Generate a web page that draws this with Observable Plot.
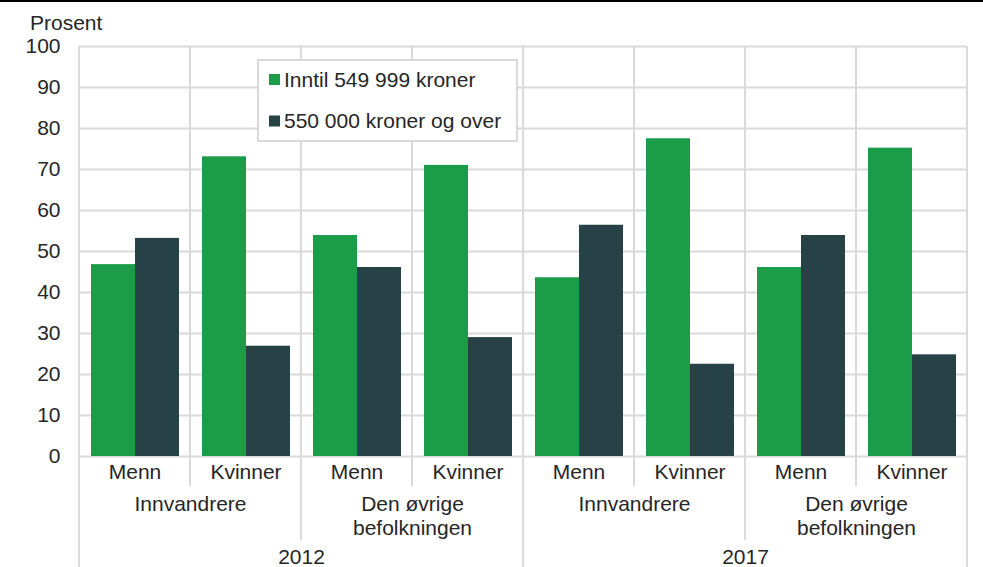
<!DOCTYPE html>
<html><head><meta charset="utf-8">
<script src="https://cdn.jsdelivr.net/npm/d3@7"></script>
<script src="https://cdn.jsdelivr.net/npm/@observablehq/plot@0.6"></script>
<style>
body{margin:0;background:#fff;}
#chart{position:relative;width:983px;height:567px;}
</style>
</head><body><div id="chart"></div>
<script>
// ---- data ----
const years = ["2012", "2017"];
const groups = ["Innvandrere", "Den øvrige\nbefolkningen"];
const genders = ["Menn", "Kvinner"];
const seriesNames = ["Inntil 549 999 kroner", "550 000 kroner og over"];
// order: 2012 Innv Menn, Kvinner, Øvrige Menn, Kvinner, 2017 ...
const lowIncome  = [46.8, 73.1, 53.9, 71.0, 43.6, 77.5, 46.1, 75.2];
const highIncome = [53.2, 26.9, 46.1, 29.0, 56.4, 22.5, 53.9, 24.8];
const yTicks = [0, 10, 20, 30, 40, 50, 60, 70, 80, 90, 100];
const colors = ["#1b9c49", "#274247"];

// ---- build tables ----
const clusters = [];
years.forEach(yr => groups.forEach(g => genders.forEach(s => clusters.push({year: yr, group: g, gender: s, key: `${yr}|${g}|${s}`}))));
const clusterKeys = clusters.map(c => c.key);
const table = [];
clusters.forEach((c, i) => {
  table.push({cluster: c.key, series: seriesNames[0], value: lowIncome[i]});
  table.push({cluster: c.key, series: seriesNames[1], value: highIncome[i]});
});
const groupLabels = clusters.filter(c => c.gender === genders[0]).map(c => ({key: c.key, label: c.group}));
const yearLabels = clusters.filter(c => c.group === groups[0] && c.gender === genders[1]).map(c => ({key: c.key, label: c.year}));

const font = "'Liberation Sans', Arial, Helvetica, sans-serif";
const fontSize = "21px";
const textColor = "#262626";
const gridColor = "#d9d9d9";

const plot = Plot.plot({
  width: 983, height: 567,
  marginTop: 46, marginBottom: 111, marginLeft: 79, marginRight: 16,
  style: {fontFamily: font, fontSize: fontSize, color: textColor, background: "white", overflow: "visible"},
  fx: {domain: clusterKeys, padding: 0, label: null},
  x: {domain: seriesNames, paddingInner: 0, paddingOuter: 0.26, axis: null},
  y: {domain: [0, 100], label: null},
  color: {domain: seriesNames, range: colors},
  marks: [
    Plot.gridY(yTicks, {stroke: gridColor, strokeOpacity: 1, strokeWidth: 2}),
    Plot.axisY(yTicks, {tickSize: 0, tickPadding: 19, label: null, fill: textColor}),
    Plot.axisFx({anchor: "bottom", tickSize: 0, tickPadding: 8, label: null, tickFormat: k => k.split("|")[2], fill: textColor}),
    Plot.barY(table, {fx: "cluster", x: "series", y: "value", fill: "series"}),
    Plot.text(groupLabels, {fx: "key", text: "label", frameAnchor: "bottom-right", textAnchor: "middle", lineAnchor: "top", lineHeight: 1.12, dy: 38, fill: textColor}),
    Plot.text(yearLabels, {fx: "key", text: "label", frameAnchor: "bottom-right", textAnchor: "middle", lineAnchor: "top", dy: 93, fill: textColor})
  ]
});

document.getElementById("chart").appendChild(plot);

// ---- separators, legend, title via the plot's scales ----
const svg = d3.select(plot);
const fxs = plot.scale("fx");
const ys = plot.scale("y");
const sep = svg.append("g").attr("stroke", gridColor).attr("stroke-width", 2);
const yTop = ys.apply(100);
clusterKeys.forEach((k, i) => {
  const x = fxs.apply(k);
  const y2 = i % 4 === 0 ? 567 : i % 2 === 0 ? 540 : 486;
  sep.append("line").attr("x1", x).attr("x2", x).attr("y1", yTop).attr("y2", y2);
});
{
  const xe = fxs.apply(clusterKeys[clusterKeys.length - 1]) + fxs.bandwidth;
  sep.append("line").attr("x1", xe).attr("x2", xe).attr("y1", yTop).attr("y2", 567);
}

// top rule
svg.append("line").attr("x1", 0).attr("x2", 983).attr("y1", 1).attr("y2", 1).attr("stroke", "#000").attr("stroke-width", 2);

// axis title
svg.append("text").attr("x", 30).attr("y", 30).attr("fill", textColor).attr("text-anchor", "start")
  .style("font-family", font).style("font-size", fontSize).text("Prosent");

// legend
const lg = svg.append("g").style("font-family", font).style("font-size", fontSize).attr("text-anchor", "start");
lg.append("rect").attr("x", 258).attr("y", 60).attr("width", 259).attr("height", 81)
  .attr("fill", "white").attr("stroke", gridColor).attr("stroke-width", 2);
seriesNames.forEach((s, i) => {
  const cy = 79 + i * 41.5;
  lg.append("rect").attr("x", 269).attr("y", cy - 5).attr("width", 11).attr("height", 11).attr("fill", colors[i]);
  lg.append("text").attr("x", 284).attr("y", cy + 7.5).attr("fill", textColor).attr("text-anchor", "start").text(s);
});
</script>
</body></html>
